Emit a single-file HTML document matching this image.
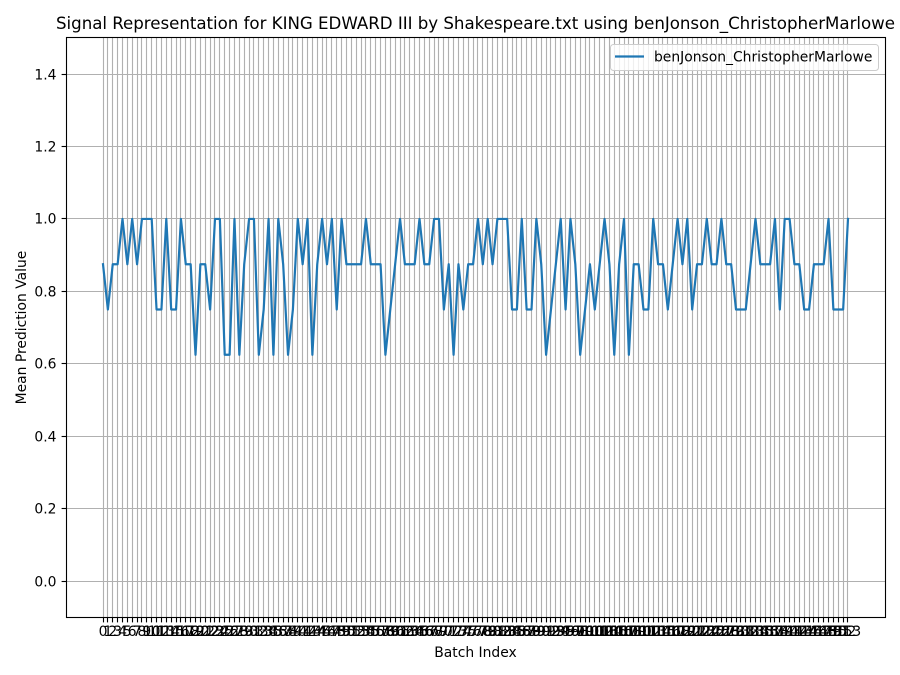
<!DOCTYPE html>
<html>
<head>
<meta charset="utf-8">
<style>
html,body{margin:0;padding:0;background:#fff;width:900px;height:675px;overflow:hidden}
svg{display:block}
text{font-family:"DejaVu Sans","Liberation Sans",sans-serif;fill:#000}
</style>
</head>
<body>
<svg id="chart" xmlns="http://www.w3.org/2000/svg" width="900" height="675" viewBox="0 0 900 675">
  <rect x="0" y="0" width="900" height="675" fill="#fff"/>
  <g id="grid"></g>
  <path id="series" fill="none" stroke="#1f77b4" stroke-width="2.2" stroke-linejoin="round" stroke-linecap="square"/>
  <g id="xticks"></g>
  <g id="yticks"></g>
  <rect x="66.5" y="37.5" width="819" height="580" fill="none" stroke="#000" stroke-width="1.1"/>
  <text x="475.5" y="29" font-size="16.67" text-anchor="middle" textLength="839" lengthAdjust="spacing">Signal Representation for KING EDWARD III by Shakespeare.txt using benJonson_ChristopherMarlowe</text>
  <text x="475.5" y="657" font-size="13.89" text-anchor="middle">Batch Index</text>
  <text transform="translate(26 327.5) rotate(-90)" font-size="13.89" text-anchor="middle">Mean Prediction Value</text>
  <g>
    <rect x="610.5" y="44.5" width="268" height="26" rx="3" ry="3" fill="#fff" fill-opacity="0.8" stroke="#cccccc" stroke-width="1"/>
    <line x1="615" y1="56.5" x2="644" y2="56.5" stroke="#1f77b4" stroke-width="2.2"/>
    <text x="654" y="61.5" font-size="13.89">benJonson_ChristopherMarlowe</text>
  </g>
</svg>
<script>
const seriesValues = [
  0.875,0.75,0.875,0.875,1,0.875,1,0.875,1,1,
  1,0.75,0.75,1,0.75,0.75,1,0.875,0.875,0.625,
  0.875,0.875,0.75,1,1,0.625,0.625,1,0.625,0.875,
  1,1,0.625,0.75,1,0.625,1,0.875,0.625,0.75,
  1,0.875,1,0.625,0.875,1,0.875,1,0.75,1,
  0.875,0.875,0.875,0.875,1,0.875,0.875,0.875,0.625,0.75,
  0.875,1,0.875,0.875,0.875,1,0.875,0.875,1,1,
  0.75,0.875,0.625,0.875,0.75,0.875,0.875,1,0.875,1,
  0.875,1,1,1,0.75,0.75,1,0.75,0.75,1,
  0.875,0.625,0.75,0.875,1,0.75,1,0.875,0.625,0.75,
  0.875,0.75,0.875,1,0.875,0.625,0.875,1,0.625,0.875,
  0.875,0.75,0.75,1,0.875,0.875,0.75,0.875,1,0.875,
  1,0.75,0.875,0.875,1,0.875,0.875,1,0.875,0.875,
  0.75,0.75,0.75,0.875,1,0.875,0.875,0.875,1,0.75,
  1,1,0.875,0.875,0.75,0.75,0.875,0.875,0.875,1,
  0.75,0.75,0.75,1
];
const yTickLabels = ["0.0","0.2","0.4","0.6","0.8","1.0","1.2","1.4"];

const NS = 'http://www.w3.org/2000/svg';
const plot = {left: 65.75, right: 885.25, top: 37.8, bottom: 617.425};
const xDomain = [-0.05 * (seriesValues.length - 1), 1.05 * (seriesValues.length - 1)];
const yDomain = [-0.1, 1.5];
function xScale(v) {
  return plot.left + (v - xDomain[0]) / (xDomain[1] - xDomain[0]) * (plot.right - plot.left);
}
function yScale(v) {
  return plot.bottom - (v - yDomain[0]) / (yDomain[1] - yDomain[0]) * (plot.bottom - plot.top);
}
function snap(p) {
  return Math.floor(p) + 0.5;
}
function make(tag, attrs, parent) {
  const el = document.createElementNS(NS, tag);
  for (const k in attrs) el.setAttribute(k, attrs[k]);
  parent.appendChild(el);
  return el;
}
const gridG = document.getElementById('grid');
const xG = document.getElementById('xticks');
const yG = document.getElementById('yticks');

seriesValues.forEach(function (_, i) {
  const px = snap(xScale(i));
  const g = make('line', {x1: px, x2: px, y1: 37.5, y2: 617.5, stroke: '#b0b0b0', 'stroke-width': 1.11}, gridG);
  
  
  const t = make('line', {x1: px, x2: px, y1: 617.5, y2: 622.4, stroke: '#000', 'stroke-width': 1.11}, xG);
  
  
  const l = make('text', {x: xScale(i), y: 636.2, 'font-size': 13.89, 'text-anchor': 'middle'}, xG);
  
  
  l.textContent = String(i);
});

yTickLabels.forEach(function (label) {
  const val = parseFloat(label);
  const py = snap(yScale(val));
  const g = make('line', {x1: 66, x2: 885.5, y1: py, y2: py, stroke: '#b0b0b0', 'stroke-width': 1.11}, gridG);
  
  
  const t = make('line', {x1: 61.6, x2: 66.5, y1: py, y2: py, stroke: '#000', 'stroke-width': 1.11}, yG);
  
  
  const l = make('text', {x: 56.5, y: py + 5, 'font-size': 13.89, 'text-anchor': 'end'}, yG);
  
  
  l.textContent = label;
});

document.getElementById('series').setAttribute('d', seriesValues.map(function (v, i) {
  return (i ? 'L' : 'M') + xScale(i).toFixed(2) + ' ' + yScale(v).toFixed(2);
}).join(' '));
</script>
</body>
</html>
